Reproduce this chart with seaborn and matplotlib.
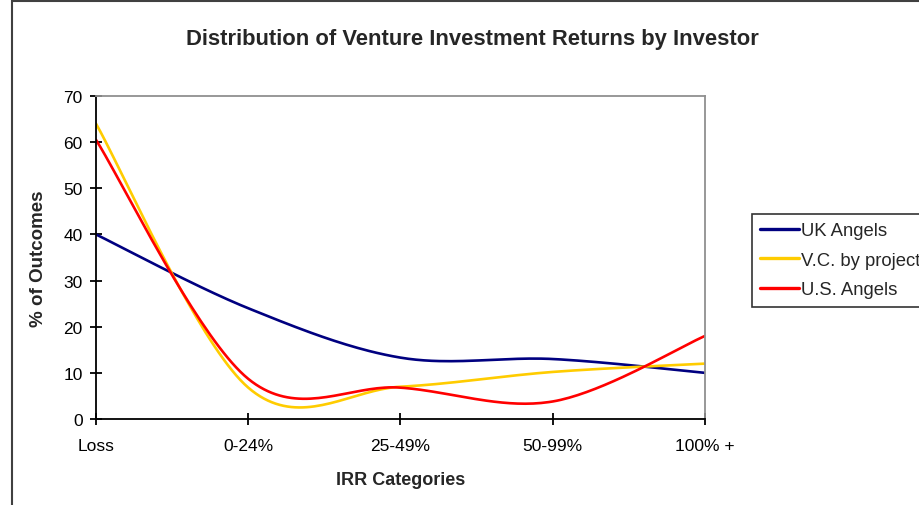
import numpy as np
import pandas as pd
import matplotlib
matplotlib.use("Agg")
import matplotlib.pyplot as plt
import seaborn as sns
from matplotlib.patches import Rectangle

categories = ["Loss", "0-24%", "25-49%", "50-99%", "100% +"]
uk_angels = [40, 24, 13.3, 13, 10]
vc_by_project = [64, 6.8, 7, 10.2, 12]
us_angels = [60.5, 8.7, 6.8, 3.8, 18]

series_names = ["UK Angels", "V.C. by project", "U.S. Angels"]
colors = ["#000080", "#FFCC00", "#FF0000"]


# excel style smoothed line (bezier through the points)
def smooth(vals, steps=40):
    p = np.column_stack([np.arange(len(vals)), vals]).astype(float)
    pad = np.vstack([p[0], p, p[-1]])
    out = []
    t = np.linspace(0, 1, steps)[:, None]
    for i in range(len(vals) - 1):
        p0, p1 = pad[i + 1], pad[i + 2]
        c1 = p0 + (pad[i + 2] - pad[i]) / 6
        c2 = p1 - (pad[i + 3] - pad[i + 1]) / 6
        seg = (1 - t) ** 3 * p0 + 3 * (1 - t) ** 2 * t * c1 + 3 * (1 - t) * t ** 2 * c2 + t ** 3 * p1
        out.append(seg if i == 0 else seg[1:])
    return np.vstack(out)


rows = []
for name, vals in zip(series_names, [uk_angels, vc_by_project, us_angels]):
    pts = smooth(vals)
    for k, (xx, yy) in enumerate(pts):
        rows.append({"order": k, "x": xx, "y": yy, "series": name})
df = pd.DataFrame(rows)

sns.set_style("white")
plt.rcParams["font.family"] = ["Liberation Sans", "DejaVu Sans"]

fig = plt.figure(figsize=(9.2, 5.06), dpi=100)
ax = fig.add_axes([96 / 920, 86 / 506, 609 / 920, 323 / 506])

sns.lineplot(data=df, x="x", y="y", hue="series", palette=colors, hue_order=series_names,
             sort=False, estimator=None, units="series", linewidth=1.9, ax=ax, legend=False)

ax.set_xlim(0, 4)
ax.set_ylim(0, 70)
ax.set_xticks(range(len(categories)))
ax.set_xticklabels(categories)
ax.set_yticks(range(0, 71, 10))
ax.tick_params(axis="both", direction="inout", length=9, width=1.3, colors="black",
               labelsize=12.5, left=True, bottom=True)
ax.tick_params(axis="y", pad=5)
ax.tick_params(axis="x", pad=9)
for s in ["left", "bottom"]:
    ax.spines[s].set_color("black")
    ax.spines[s].set_linewidth(1.3)
for s in ["top", "right"]:
    ax.spines[s].set_color("#909090")
    ax.spines[s].set_linewidth(1.3)

ax.set_xlabel("IRR Categories", fontsize=13, fontweight="bold", labelpad=13)
ax.set_ylabel("% of Outcomes", fontsize=13.5, fontweight="bold", labelpad=12)

fig.text(472 / 920, 1 - 39 / 506, "Distribution of Venture Investment Returns by Investor",
         ha="center", va="center", fontsize=15.8, fontweight="bold")

handles = [plt.Line2D([], [], color=c, linewidth=2.4) for c in colors]
leg = fig.legend(handles, series_names, loc="upper left", bbox_to_anchor=(752 / 920, 1 - 215 / 506),
                 frameon=True, fancybox=False, edgecolor="black", fontsize=13.3,
                 handlelength=2.1, handletextpad=0.1, labelspacing=0.68, borderpad=0.45,
                 borderaxespad=0)
leg.get_frame().set_linewidth(1.2)

# outer chart border
fig.patches.append(Rectangle((12 / 920, -0.05), 1.0, 1 - 2 / 506 + 0.05, transform=fig.transFigure,
                             fill=False, edgecolor="#404040", linewidth=1.5))

fig.savefig("out.png", dpi=100)
